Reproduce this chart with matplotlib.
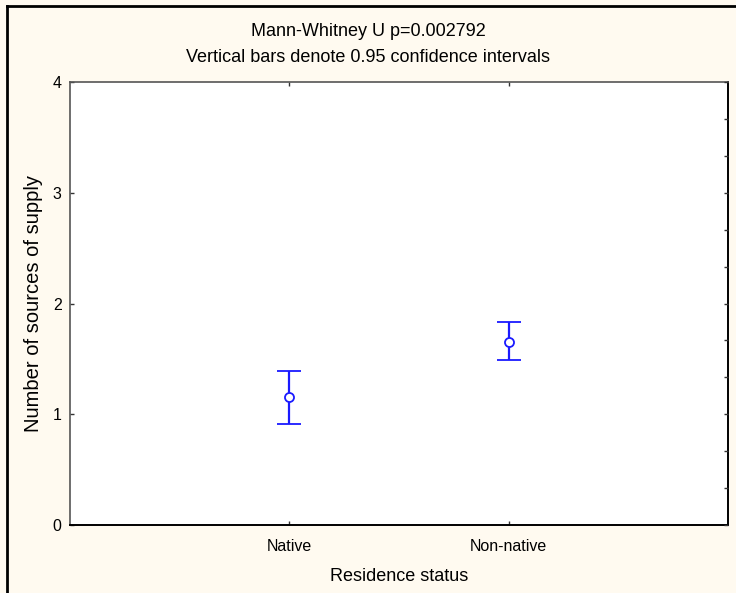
import matplotlib
matplotlib.use("Agg")
import matplotlib.pyplot as plt
from matplotlib.ticker import MultipleLocator
from matplotlib.lines import Line2D

# Group means with 95% confidence limits
categories = ["Native", "Non-native"]
means = [1.153, 1.655]
ci_lower = [0.912, 1.490]
ci_upper = [1.390, 1.830]

title_lines = ["Mann-Whitney U p=0.002792",
               "Vertical bars denote 0.95 confidence intervals"]
x_label = "Residence status"
y_label = "Number of sources of supply"
y_ticks = [0, 1, 2, 3, 4]

plt.rcParams["font.family"] = ["Liberation Sans", "DejaVu Sans"]

W, H = 736, 593
fig = plt.figure(figsize=(W / 100, H / 100), dpi=100, facecolor="#FFFAF0")

ax_l, ax_r, ax_t, ax_b = 70, 728, 82, 525
ax = fig.add_axes([ax_l / W, 1 - ax_b / H, (ax_r - ax_l) / W, (ax_b - ax_t) / H])
ax.set_facecolor("white")

xpos = list(range(1, len(categories) + 1))
err_lo = [m - lo for m, lo in zip(means, ci_lower)]
err_hi = [hi - m for m, hi in zip(means, ci_upper)]
ax.errorbar(xpos, means, yerr=[err_lo, err_hi], fmt="o", color="#1a1aff",
            ecolor="#1a1aff", elinewidth=1.6, capsize=8.5, capthick=1.6,
            markersize=6.5, markerfacecolor="white", markeredgecolor="#1a1aff",
            markeredgewidth=1.3, zorder=3)

ax.set_xlim(0, len(categories) + 1)
ax.set_ylim(0, 4)
ax.set_xticks(xpos)
ax.set_xticklabels(categories, fontsize=11.5)
ax.set_yticks(y_ticks)
ax.set_yticklabels([str(t) for t in y_ticks], fontsize=11.5)
ax.tick_params(axis="both", direction="in", length=3, width=1, color="#333333",
               top=True, right=False, pad=6)
ax.tick_params(axis="x", pad=10)

# Right axis: inward ticks every third of a unit
ax2 = ax.twinx()
ax2.set_ylim(0, 4)
ax2.yaxis.set_major_locator(MultipleLocator(1 / 3))
ax2.tick_params(axis="y", direction="in", length=3, width=1, color="#333333",
                labelright=False)
for sp in ax2.spines.values():
    sp.set_visible(False)

for name, sp in ax.spines.items():
    if name in ("top", "left"):
        sp.set_color("#555555")
        sp.set_linewidth(1.2)
    else:
        sp.set_color("black")
        sp.set_linewidth(1.4)

ax.set_xlabel(x_label, fontsize=13, labelpad=10)
ax.set_ylabel(y_label, fontsize=14.5, labelpad=7)

fig.text(0.5, 1 - 32 / H, title_lines[0], ha="center", va="center", fontsize=13)
fig.text(0.5, 1 - 57 / H, title_lines[1], ha="center", va="center", fontsize=13)

# Frame lines along the left and top edges of the figure
fig.add_artist(Line2D([7 / W, 7 / W], [0, 1 - 5.5 / H], transform=fig.transFigure,
                      color="black", linewidth=2))
fig.add_artist(Line2D([7 / W, 1], [1 - 5.5 / H, 1 - 5.5 / H], transform=fig.transFigure,
                      color="black", linewidth=2))

fig.savefig("out.png", dpi=100, facecolor=fig.get_facecolor())
